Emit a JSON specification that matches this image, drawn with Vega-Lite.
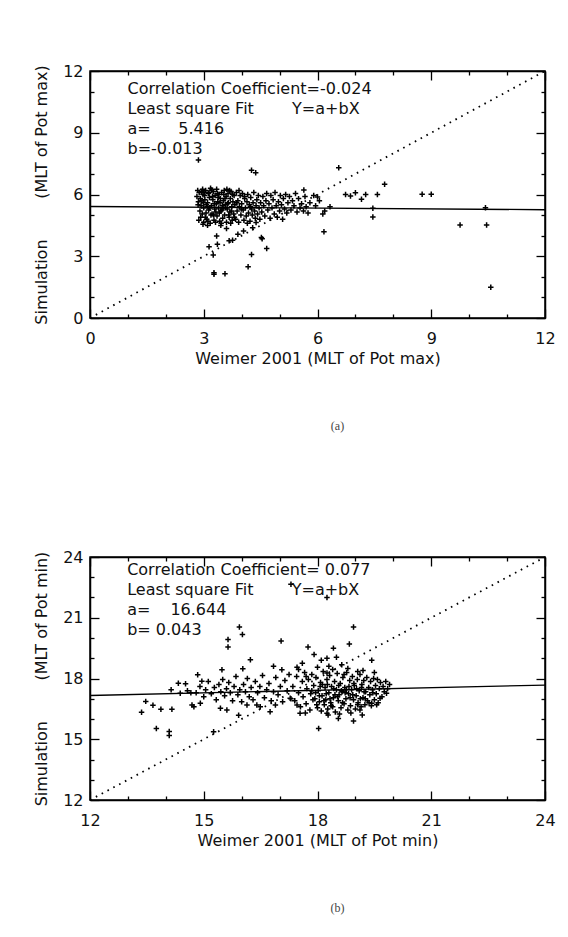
{
  "$schema": "https://vega.github.io/schema/vega-lite/v6.json",
  "background": "white",
  "padding": {"left": 32, "top": 62, "right": 5, "bottom": 5},
  "spacing": 115,
  "config": {
    "font": "DejaVu Sans",
    "view": {"stroke": "black", "strokeWidth": 1.5},
    "axis": {
      "grid": false,
      "domainColor": "black",
      "domainWidth": 1.5,
      "tickColor": "black",
      "tickWidth": 1.3,
      "labelFont": "DejaVu Sans",
      "labelFontSize": 16,
      "labelColor": "#111",
      "labelFlush": false,
      "labelOverlap": false,
      "labelBound": false,
      "titleFont": "DejaVu Sans",
      "titleFontSize": 16,
      "titleFontWeight": "normal",
      "titleColor": "#111"
    },
    "title": {"font": "Liberation Serif", "fontSize": 12, "fontWeight": "normal", "color": "#444"}
  },
  "datasets": {
    "a": [
      {"x":2.82,"y":5.9},{"x":2.85,"y":5.5},{"x":2.88,"y":6.1},{"x":2.9,"y":5.2},{"x":2.92,"y":4.9},{"x":2.95,"y":5.7},{"x":2.97,"y":6.25},{"x":3.0,"y":4.65},{"x":3.0,"y":5.35},{"x":3.02,"y":5.95},{"x":3.05,"y":6.2},{"x":3.06,"y":5.1},{"x":3.08,"y":4.8},{"x":3.1,"y":5.6},{"x":3.12,"y":6.05},{"x":3.13,"y":5.25},{"x":3.15,"y":5.85},{"x":3.17,"y":4.6},{"x":3.18,"y":6.3},{"x":3.2,"y":5.45},{"x":3.22,"y":5.05},{"x":3.24,"y":5.75},{"x":3.25,"y":6.15},{"x":3.27,"y":4.75},{"x":3.28,"y":5.55},{"x":3.3,"y":5.95},{"x":3.32,"y":5.15},{"x":3.34,"y":6.25},{"x":3.35,"y":4.95},{"x":3.37,"y":5.65},{"x":3.39,"y":5.35},{"x":3.4,"y":6.0},{"x":3.42,"y":4.7},{"x":3.44,"y":5.8},{"x":3.45,"y":5.2},{"x":3.47,"y":6.1},{"x":3.49,"y":5.45},{"x":3.5,"y":4.85},{"x":3.52,"y":5.7},{"x":3.54,"y":6.2},{"x":3.55,"y":5.0},{"x":3.57,"y":5.5},{"x":3.59,"y":5.9},{"x":3.6,"y":4.65},{"x":3.62,"y":5.3},{"x":3.64,"y":6.05},{"x":3.65,"y":5.6},{"x":3.67,"y":4.9},{"x":3.69,"y":5.15},{"x":3.7,"y":5.8},{"x":3.72,"y":6.15},{"x":3.74,"y":5.4},{"x":3.75,"y":4.75},{"x":3.77,"y":5.65},{"x":3.79,"y":5.05},{"x":3.8,"y":5.95},
      {"x":2.86,"y":5.65},{"x":2.93,"y":5.45},{"x":2.98,"y":6.0},{"x":3.03,"y":5.75},{"x":3.09,"y":5.4},{"x":3.14,"y":6.1},{"x":3.19,"y":5.0},{"x":3.23,"y":5.9},{"x":3.29,"y":5.3},{"x":3.33,"y":5.55},{"x":3.38,"y":5.85},{"x":3.43,"y":5.6},{"x":3.48,"y":5.25},{"x":3.53,"y":6.0},{"x":3.58,"y":5.35},{"x":3.63,"y":5.55},{"x":3.68,"y":6.2},{"x":3.73,"y":5.2},
      {"x":2.84,"y":6.2},{"x":2.87,"y":4.75},{"x":2.91,"y":5.8},{"x":2.94,"y":6.15},{"x":2.96,"y":5.05},{"x":2.99,"y":5.6},{"x":3.01,"y":6.1},{"x":3.04,"y":4.9},{"x":3.07,"y":5.5},{"x":3.11,"y":4.7},{"x":3.16,"y":5.35},{"x":3.21,"y":6.22},{"x":3.26,"y":5.0},{"x":3.31,"y":4.65},{"x":3.36,"y":6.05},{"x":3.41,"y":5.1},{"x":3.46,"y":4.6},{"x":3.51,"y":5.35},{"x":3.56,"y":5.8},{"x":3.61,"y":6.25},{"x":3.66,"y":5.0},{"x":3.71,"y":4.6},{"x":3.76,"y":6.0},{"x":3.81,"y":4.9},{"x":3.87,"y":5.6},{"x":3.93,"y":6.2},{"x":3.99,"y":5.3},{"x":4.07,"y":5.9},{"x":4.15,"y":4.6},{"x":4.23,"y":5.4},
      {"x":3.82,"y":5.5},{"x":3.84,"y":4.8},{"x":3.86,"y":6.1},{"x":3.88,"y":5.2},{"x":3.9,"y":5.7},{"x":3.92,"y":4.65},{"x":3.94,"y":5.4},{"x":3.96,"y":5.95},{"x":3.98,"y":5.0},{"x":4.0,"y":5.55},{"x":4.02,"y":6.05},{"x":4.04,"y":5.25},{"x":4.06,"y":4.75},{"x":4.08,"y":5.8},{"x":4.1,"y":5.35},{"x":4.12,"y":4.95},{"x":4.14,"y":5.65},{"x":4.16,"y":6.0},{"x":4.18,"y":5.1},{"x":4.2,"y":5.5},{"x":4.22,"y":4.7},{"x":4.24,"y":5.85},{"x":4.26,"y":5.3},{"x":4.28,"y":5.0},{"x":4.3,"y":5.6},{"x":4.32,"y":6.1},{"x":4.34,"y":5.2},{"x":4.36,"y":4.85},{"x":4.38,"y":5.45},{"x":4.4,"y":5.75},{"x":4.42,"y":5.05},{"x":4.44,"y":5.95},{"x":4.46,"y":5.35},{"x":4.48,"y":4.8},{"x":4.5,"y":5.6},
      {"x":4.53,"y":5.15},{"x":4.56,"y":5.9},{"x":4.58,"y":5.45},{"x":4.61,"y":4.95},{"x":4.64,"y":5.7},{"x":4.66,"y":6.05},{"x":4.69,"y":5.25},{"x":4.72,"y":5.55},{"x":4.75,"y":4.85},{"x":4.77,"y":5.95},{"x":4.8,"y":5.35},{"x":4.83,"y":5.75},{"x":4.86,"y":5.05},{"x":4.88,"y":6.1},{"x":4.91,"y":5.45},{"x":4.94,"y":4.9},{"x":4.97,"y":5.65},{"x":5.0,"y":5.2},{"x":5.02,"y":5.95},{"x":5.05,"y":5.5},{"x":5.08,"y":4.8},{"x":5.1,"y":5.8},{"x":5.13,"y":5.3},{"x":5.16,"y":6.0},{"x":5.19,"y":5.1},
      {"x":5.22,"y":5.6},{"x":5.26,"y":5.9},{"x":5.3,"y":5.25},{"x":5.34,"y":5.7},{"x":5.38,"y":5.45},{"x":5.42,"y":6.05},{"x":5.46,"y":5.15},{"x":5.5,"y":5.8},{"x":5.54,"y":5.35},{"x":5.58,"y":5.55},{"x":5.63,"y":5.2},{"x":5.67,"y":5.9},{"x":5.7,"y":5.4},
      {"x":2.86,"y":7.68},{"x":4.26,"y":7.18},{"x":4.37,"y":7.06},{"x":6.56,"y":7.3},{"x":7.77,"y":6.5},{"x":3.14,"y":3.46},{"x":3.25,"y":3.06},{"x":3.34,"y":3.98},{"x":3.36,"y":3.58},{"x":3.27,"y":2.2},{"x":3.27,"y":2.12},{"x":3.56,"y":2.15},{"x":4.17,"y":2.49},{"x":4.26,"y":3.09},{"x":4.54,"y":3.85},{"x":4.66,"y":3.38},{"x":6.17,"y":4.19},{"x":5.64,"y":6.22},{"x":5.9,"y":5.95},{"x":6.0,"y":5.88},{"x":6.19,"y":5.2},{"x":6.33,"y":5.4},{"x":6.14,"y":5.05},{"x":6.74,"y":6.0},{"x":6.87,"y":5.93},{"x":7.0,"y":6.09},{"x":7.16,"y":5.77},{"x":7.27,"y":6.0},{"x":7.58,"y":6.0},{"x":7.46,"y":5.33},{"x":7.46,"y":4.91},{"x":8.76,"y":6.01},{"x":9.0,"y":6.01},{"x":9.76,"y":4.52},{"x":10.46,"y":4.52},{"x":10.57,"y":1.49},{"x":10.43,"y":5.36},{"x":3.67,"y":3.75},{"x":3.76,"y":3.78},{"x":3.9,"y":4.07},{"x":4.05,"y":4.23},{"x":4.52,"y":3.91},{"x":4.29,"y":4.39},{"x":4.38,"y":4.64},{"x":5.75,"y":5.1},{"x":5.8,"y":5.6},{"x":5.95,"y":5.45},{"x":6.05,"y":5.7},{"x":3.6,"y":4.35},{"x":3.45,"y":4.5},{"x":2.98,"y":4.55},{"x":3.1,"y":4.5}
    ],
    "b": [
      {"x":17.3,"y":22.65},{"x":18.25,"y":22.0},{"x":18.95,"y":20.54},{"x":15.94,"y":20.54},{"x":16.02,"y":20.17},{"x":15.64,"y":19.93},{"x":15.64,"y":19.55},{"x":17.04,"y":19.85},{"x":17.75,"y":19.55},{"x":18.42,"y":19.5},{"x":18.25,"y":19.0},{"x":18.84,"y":19.7},{"x":17.91,"y":19.18},{"x":16.23,"y":18.93},{"x":19.43,"y":18.9},{"x":14.84,"y":18.18},{"x":15.48,"y":18.43},{"x":16.03,"y":18.48},{"x":16.84,"y":18.6},{"x":17.06,"y":18.43},{"x":17.46,"y":18.55},{"x":18.25,"y":18.27},{"x":18.64,"y":18.68},{"x":17.6,"y":18.75},{"x":18.1,"y":18.9},{"x":18.5,"y":19.05},
      {"x":13.36,"y":16.33},{"x":13.47,"y":16.87},{"x":13.66,"y":16.68},{"x":13.75,"y":15.53},{"x":14.09,"y":15.38},{"x":14.09,"y":15.18},{"x":13.87,"y":16.48},{"x":14.16,"y":16.48},{"x":14.14,"y":17.44},{"x":14.33,"y":17.77},{"x":14.52,"y":17.74},{"x":14.38,"y":17.27},{"x":14.57,"y":17.4},{"x":14.66,"y":17.3},{"x":14.95,"y":17.87},{"x":14.69,"y":16.69},{"x":14.74,"y":16.6},{"x":14.91,"y":16.78},{"x":15.26,"y":15.37},{"x":15.44,"y":16.53},{"x":15.61,"y":16.44},{"x":15.92,"y":16.19},{"x":16.14,"y":16.69},{"x":16.4,"y":16.69},{"x":16.49,"y":16.6},{"x":16.75,"y":16.36},{"x":16.89,"y":16.69},{"x":17.28,"y":17.02},{"x":17.46,"y":16.69},{"x":17.54,"y":16.28},{"x":18.03,"y":15.53},{"x":18.25,"y":16.28},{"x":18.55,"y":16.03},{"x":18.95,"y":15.9},{"x":19.12,"y":16.44},{"x":19.43,"y":16.78},{"x":19.65,"y":17.02},{"x":19.82,"y":17.27},
      {"x":14.8,"y":17.3},{"x":14.9,"y":17.6},{"x":15.0,"y":17.1},{"x":15.05,"y":17.45},{"x":15.12,"y":17.85},{"x":15.2,"y":17.25},{"x":15.28,"y":17.55},{"x":15.33,"y":16.95},{"x":15.4,"y":17.7},{"x":15.45,"y":17.35},{"x":15.5,"y":17.95},{"x":15.55,"y":17.15},{"x":15.6,"y":17.5},{"x":15.66,"y":17.8},{"x":15.7,"y":17.3},{"x":15.76,"y":16.9},{"x":15.8,"y":17.6},{"x":15.85,"y":18.1},{"x":15.9,"y":17.2},{"x":15.95,"y":17.45},{"x":16.0,"y":16.85},{"x":16.05,"y":17.7},{"x":16.1,"y":17.35},{"x":16.15,"y":18.0},{"x":16.2,"y":17.1},{"x":16.25,"y":17.55},{"x":16.3,"y":16.95},{"x":16.36,"y":17.85},{"x":16.42,"y":17.3},{"x":16.48,"y":17.6},{"x":16.55,"y":18.15},{"x":16.6,"y":17.05},{"x":16.66,"y":17.45},{"x":16.72,"y":17.75},{"x":16.78,"y":16.9},{"x":16.84,"y":17.35},{"x":16.9,"y":18.05},{"x":16.96,"y":17.2},{"x":17.02,"y":17.6},{"x":17.08,"y":16.85},{"x":17.14,"y":17.9},{"x":17.2,"y":17.4},{"x":17.25,"y":18.2},{"x":17.3,"y":17.0},
      {"x":17.35,"y":17.6},{"x":17.4,"y":16.9},{"x":17.45,"y":18.1},{"x":17.5,"y":17.3},{"x":17.55,"y":16.6},{"x":17.6,"y":17.85},{"x":17.62,"y":17.1},{"x":17.66,"y":18.3},{"x":17.7,"y":16.75},{"x":17.72,"y":17.5},{"x":17.76,"y":17.95},{"x":17.8,"y":16.45},{"x":17.82,"y":17.25},{"x":17.85,"y":18.2},{"x":17.88,"y":16.95},{"x":17.9,"y":17.65},{"x":17.93,"y":17.0},{"x":17.96,"y":18.05},{"x":18.0,"y":16.55},{"x":18.02,"y":17.4},{"x":18.05,"y":16.85},{"x":18.08,"y":17.8},{"x":18.1,"y":16.4},{"x":18.12,"y":17.15},{"x":18.15,"y":18.35},{"x":18.18,"y":16.7},{"x":18.2,"y":17.55},{"x":18.22,"y":16.95},{"x":18.25,"y":17.95},{"x":18.27,"y":16.5},{"x":18.3,"y":17.3},{"x":18.32,"y":18.15},{"x":18.35,"y":16.8},{"x":18.37,"y":17.6},{"x":18.4,"y":16.6},{"x":18.42,"y":17.05},{"x":18.45,"y":17.85},{"x":18.47,"y":16.35},{"x":18.5,"y":17.45},{"x":18.52,"y":18.25},{"x":18.55,"y":16.9},{"x":18.57,"y":17.2},{"x":18.6,"y":17.75},{"x":18.62,"y":16.55},{"x":18.65,"y":17.35},{"x":18.67,"y":18.05},{"x":18.7,"y":16.75},{"x":18.72,"y":17.55},{"x":18.75,"y":17.0},{"x":18.77,"y":18.3},{"x":18.8,"y":16.45},{"x":18.82,"y":17.25},{"x":18.85,"y":17.9},{"x":18.87,"y":16.65},{"x":18.9,"y":17.45},{"x":18.92,"y":18.1},{"x":18.95,"y":16.95},{"x":18.97,"y":17.65},{"x":19.0,"y":16.5},{"x":19.02,"y":17.15},{"x":19.05,"y":17.95},{"x":19.07,"y":16.8},{"x":19.1,"y":17.4},{"x":19.12,"y":18.2},{"x":19.15,"y":16.6},{"x":19.17,"y":17.7},{"x":19.2,"y":17.05},{"x":19.22,"y":17.9},{"x":19.25,"y":16.7},{"x":19.27,"y":17.35},{"x":19.3,"y":18.05},{"x":19.32,"y":16.9},{"x":19.35,"y":17.55},{"x":19.38,"y":17.2},{"x":19.4,"y":17.85},{"x":19.42,"y":16.65},{"x":19.45,"y":17.45},{"x":19.48,"y":18.0},{"x":19.5,"y":16.95},{"x":19.53,"y":17.65},{"x":19.55,"y":17.25},{"x":19.58,"y":17.95},{"x":19.6,"y":16.8},{"x":19.63,"y":17.5},{"x":19.66,"y":17.8},{"x":19.7,"y":17.1},{"x":19.73,"y":17.6},{"x":19.76,"y":17.35},{"x":19.8,"y":17.85},{"x":19.85,"y":17.5},{"x":19.9,"y":17.7},
      {"x":17.95,"y":17.3},{"x":18.05,"y":17.15},{"x":18.13,"y":17.7},{"x":18.23,"y":17.25},{"x":18.33,"y":17.0},{"x":18.43,"y":17.5},{"x":18.53,"y":17.1},{"x":18.63,"y":17.4},{"x":18.73,"y":17.3},{"x":18.83,"y":17.6},{"x":18.93,"y":17.2},{"x":19.03,"y":17.5},{"x":19.13,"y":17.0},{"x":19.23,"y":17.35},{"x":18.28,"y":16.2},{"x":18.58,"y":16.25},{"x":18.88,"y":16.3},{"x":19.18,"y":16.2},{"x":17.68,"y":16.3},{"x":18.0,"y":18.55},{"x":18.4,"y":18.45},{"x":18.8,"y":18.5},{"x":19.2,"y":18.4},{"x":19.5,"y":18.3},{"x":17.5,"y":18.45},
      {"x":17.85,"y":17.4},{"x":17.98,"y":16.7},{"x":18.07,"y":17.6},{"x":18.17,"y":16.9},{"x":18.26,"y":17.7},{"x":18.36,"y":16.65},{"x":18.46,"y":17.2},{"x":18.56,"y":17.65},{"x":18.66,"y":16.8},{"x":18.76,"y":17.45},{"x":18.86,"y":17.05},{"x":18.96,"y":17.75},{"x":19.06,"y":16.7},{"x":19.16,"y":17.55},{"x":19.26,"y":17.0},{"x":19.36,"y":16.8},{"x":19.46,"y":17.3},{"x":19.56,"y":16.7},{"x":19.06,"y":18.35},{"x":18.7,"y":18.2},{"x":18.3,"y":18.6},{"x":17.7,"y":18.1}
    ],
    "fa": [{"x":0,"y":5.416},{"x":12,"y":5.26}],
    "da": [{"x":0,"y":0},{"x":12,"y":12}],
    "fb": [{"x":12,"y":17.16},{"x":24,"y":17.676}],
    "db": [{"x":12,"y":12},{"x":24,"y":24}]
  },
  "vconcat": [
    {
      "width": 455,
      "height": 247,
      "title": {"text": "(a)", "orient": "bottom", "offset": 55, "anchor": "middle", "dx": 20},
      "resolve": {"axis": {"x": "independent", "y": "independent"}},
      "layer": [
        {
          "data": {"name": "a"},
          "mark": {"type": "point", "shape": "M-1,0H1M0,-1V1", "filled": false, "stroke": "black", "strokeWidth": 1.5, "size": 30, "opacity": 1},
          "encoding": {
            "x": {"field": "x", "type": "quantitative", "scale": {"domain": [0, 12], "nice": false, "zero": false},
              "axis": {"orient": "bottom", "values": [0,3,6,9,12], "tickSize": -9, "labelPadding": 21, "title": "Weimer 2001 (MLT of Pot max)", "titlePadding": 4}},
            "y": {"field": "y", "type": "quantitative", "scale": {"domain": [0, 12], "nice": false, "zero": false},
              "axis": {"orient": "left", "values": [0,3,6,9,12], "tickSize": -9, "labelPadding": 16, "title": "Simulation\u00a0\u00a0\u00a0\u00a0\u00a0\u00a0\u00a0\u00a0(MLT of Pot max)", "titlePadding": 13}}
          }
        },
        {
          "data": {"name": "fa"},
          "mark": {"type": "line", "color": "black", "strokeWidth": 1.3},
          "encoding": {
            "x": {"field": "x", "type": "quantitative",
              "axis": {"orient": "top", "values": [0,3,6,9,12], "labels": false, "title": null, "tickSize": -9}},
            "y": {"field": "y", "type": "quantitative",
              "axis": {"orient": "right", "values": [0,3,6,9,12], "labels": false, "title": null, "tickSize": -9}}
          }
        },
        {
          "data": {"name": "da"},
          "mark": {"type": "line", "color": "black", "strokeWidth": 1.8, "strokeDash": [1.6, 5]},
          "encoding": {
            "x": {"field": "x", "type": "quantitative",
              "axis": {"orient": "bottom", "values": [1,2,4,5,7,8,10,11], "labels": false, "title": null, "domain": false, "tickSize": -4}},
            "y": {"field": "y", "type": "quantitative",
              "axis": {"orient": "left", "values": [1,2,4,5,7,8,10,11], "labels": false, "title": null, "domain": false, "tickSize": -4}}
          }
        },
        {
          "data": {"values": [{}]},
          "mark": {"type": "text", "text": ["Correlation Coefficient=-0.024", "Least square Fit", "a=", "b=-0.013"], "align": "left", "baseline": "top", "lineHeight": 20, "fontSize": 16, "font": "DejaVu Sans", "color": "#111"},
          "encoding": {
            "x": {"datum": 0.99, "type": "quantitative",
              "axis": {"orient": "top", "values": [1,2,4,5,7,8,10,11], "labels": false, "title": null, "domain": false, "tickSize": -4}},
            "y": {"datum": 11.53, "type": "quantitative",
              "axis": {"orient": "right", "values": [1,2,4,5,7,8,10,11], "labels": false, "title": null, "domain": false, "tickSize": -4}}
          }
        },
        {
          "data": {"values": [{}]},
          "mark": {"type": "text", "text": "Y=a+bX", "align": "left", "baseline": "top", "fontSize": 16, "font": "DejaVu Sans", "color": "#111"},
          "encoding": {
            "x": {"datum": 5.33, "type": "quantitative", "axis": null},
            "y": {"datum": 10.56, "type": "quantitative", "axis": null}
          }
        },
        {
          "data": {"values": [{}]},
          "mark": {"type": "text", "text": "5.416", "align": "left", "baseline": "top", "fontSize": 16, "font": "DejaVu Sans", "color": "#111"},
          "encoding": {
            "x": {"datum": 2.33, "type": "quantitative", "axis": null},
            "y": {"datum": 9.59, "type": "quantitative", "axis": null}
          }
        }
      ]
    },
    {
      "width": 455,
      "height": 243,
      "title": {"text": "(b)", "orient": "bottom", "offset": 55, "anchor": "middle", "dx": 20},
      "resolve": {"axis": {"x": "independent", "y": "independent"}},
      "layer": [
        {
          "data": {"name": "b"},
          "mark": {"type": "point", "shape": "M-1,0H1M0,-1V1", "filled": false, "stroke": "black", "strokeWidth": 1.5, "size": 30, "opacity": 1},
          "encoding": {
            "x": {"field": "x", "type": "quantitative", "scale": {"domain": [12, 24], "nice": false, "zero": false},
              "axis": {"orient": "bottom", "values": [12,15,18,21,24], "tickSize": -9, "labelPadding": 21, "title": "Weimer 2001 (MLT of Pot min)", "titlePadding": 4}},
            "y": {"field": "y", "type": "quantitative", "scale": {"domain": [12, 24], "nice": false, "zero": false},
              "axis": {"orient": "left", "values": [12,15,18,21,24], "tickSize": -9, "labelPadding": 16, "title": "Simulation\u00a0\u00a0\u00a0\u00a0\u00a0\u00a0\u00a0\u00a0(MLT of Pot min)", "titlePadding": 13}}
          }
        },
        {
          "data": {"name": "fb"},
          "mark": {"type": "line", "color": "black", "strokeWidth": 1.3},
          "encoding": {
            "x": {"field": "x", "type": "quantitative",
              "axis": {"orient": "top", "values": [12,15,18,21,24], "labels": false, "title": null, "tickSize": -9}},
            "y": {"field": "y", "type": "quantitative",
              "axis": {"orient": "right", "values": [12,15,18,21,24], "labels": false, "title": null, "tickSize": -9}}
          }
        },
        {
          "data": {"name": "db"},
          "mark": {"type": "line", "color": "black", "strokeWidth": 1.8, "strokeDash": [1.6, 5]},
          "encoding": {
            "x": {"field": "x", "type": "quantitative",
              "axis": {"orient": "bottom", "values": [13,14,16,17,19,20,22,23], "labels": false, "title": null, "domain": false, "tickSize": -4}},
            "y": {"field": "y", "type": "quantitative",
              "axis": {"orient": "left", "values": [13,14,16,17,19,20,22,23], "labels": false, "title": null, "domain": false, "tickSize": -4}}
          }
        },
        {
          "data": {"values": [{}]},
          "mark": {"type": "text", "text": ["Correlation Coefficient= 0.077", "Least square Fit", "a=", "b= 0.043"], "align": "left", "baseline": "top", "lineHeight": 20, "fontSize": 16, "font": "DejaVu Sans", "color": "#111"},
          "encoding": {
            "x": {"datum": 12.98, "type": "quantitative",
              "axis": {"orient": "top", "values": [13,14,16,17,19,20,22,23], "labels": false, "title": null, "domain": false, "tickSize": -4}},
            "y": {"datum": 23.76, "type": "quantitative",
              "axis": {"orient": "right", "values": [13,14,16,17,19,20,22,23], "labels": false, "title": null, "domain": false, "tickSize": -4}}
          }
        },
        {
          "data": {"values": [{}]},
          "mark": {"type": "text", "text": "Y=a+bX", "align": "left", "baseline": "top", "fontSize": 16, "font": "DejaVu Sans", "color": "#111"},
          "encoding": {
            "x": {"datum": 17.32, "type": "quantitative", "axis": null},
            "y": {"datum": 22.76, "type": "quantitative", "axis": null}
          }
        },
        {
          "data": {"values": [{}]},
          "mark": {"type": "text", "text": "16.644", "align": "left", "baseline": "top", "fontSize": 16, "font": "DejaVu Sans", "color": "#111"},
          "encoding": {
            "x": {"datum": 14.12, "type": "quantitative", "axis": null},
            "y": {"datum": 21.77, "type": "quantitative", "axis": null}
          }
        }
      ]
    }
  ]
}
